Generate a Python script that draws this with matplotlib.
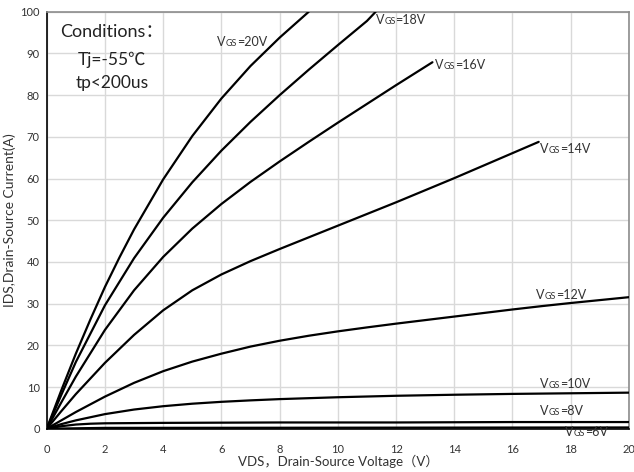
import matplotlib
matplotlib.use("Agg")
import matplotlib.pyplot as plt

plt.rcParams['font.family'] = ['Lato', 'Noto Sans CJK SC', 'DejaVu Sans']

# output curves, VDS (V) vs IDS (A), one pair per gate voltage
vds_20 = [0, 0.5, 1, 1.5, 2, 2.5, 3, 4, 5, 6, 7, 8, 9.0]
ids_20 = [0, 9.2, 18, 26.2, 34, 41.1, 47.8, 59.8, 70.2, 79.2, 87, 93.8, 100]

vds_18 = [0, 0.5, 1, 2, 3, 4, 5, 6, 7, 8, 9, 10, 11, 11.3]
ids_18 = [0, 8.1, 16, 29.6, 40.9, 50.6, 59.1, 66.7, 73.6, 80.0, 86.1, 92.0, 97.8, 100]

vds_16 = [0, 0.5, 1, 2, 3, 4, 5, 6, 7, 8, 9, 10, 11, 12, 13, 13.25]
ids_16 = [0, 6.3, 12.5, 23.7, 33.2, 41.2, 48.0, 53.9, 59.2, 64.1, 68.8, 73.4, 77.9, 82.4, 86.8, 87.9]

vds_14 = [0, 0.5, 1, 2, 3, 4, 5, 6, 7, 8, 9, 10, 11, 12, 13, 14, 15, 16, 16.9]
ids_14 = [0, 4.2, 8.3, 15.8, 22.5, 28.4, 33.2, 37.0, 40.2, 43.1, 45.9, 48.7, 51.5,
          54.3, 57.2, 60.1, 63.1, 66.1, 68.8]

vds_12 = [0, 0.5, 1, 2, 3, 4, 5, 6, 7, 8, 9, 10, 11, 12, 13, 14, 15, 16, 17, 18, 19, 20]
ids_12 = [0, 2.0, 4, 7.7, 11.0, 13.8, 16.1, 18.0, 19.7, 21.1, 22.3, 23.35, 24.3, 25.2,
          26.05, 26.9, 27.75, 28.6, 29.4, 30.15, 30.85, 31.55]

vds_10 = [0, 0.5, 1, 2, 3, 4, 5, 6, 7, 8, 10, 12, 14, 16, 18, 20]
ids_10 = [0, 1.1, 2.0, 3.5, 4.6, 5.4, 6.0, 6.45, 6.8, 7.1, 7.55, 7.9, 8.15, 8.35, 8.5, 8.65]

vds_8 = [0, 0.5, 1, 1.5, 2, 4, 8, 12, 16, 20]
ids_8 = [0, 0.6, 1.0, 1.2, 1.3, 1.4, 1.5, 1.5, 1.6, 1.6]

vds_6 = [0, 2, 20]
ids_6 = [0, 0.2, 0.3]

curves = [(vds_20, ids_20), (vds_18, ids_18), (vds_16, ids_16), (vds_14, ids_14),
          (vds_12, ids_12), (vds_10, ids_10), (vds_8, ids_8), (vds_6, ids_6)]

# curve labels: gate voltage and where the label sits (left edge, vertical centre)
label_vgs = ['20V', '18V', '16V', '14V', '12V', '10V', '8V', '6V']
label_x = [5.85, 11.3, 13.35, 16.95, 16.8, 16.95, 16.95, 17.8]
label_y = [92.7, 98.0, 87.2, 67.0, 32.0, 10.7, 4.2, -0.9]

x_ticks = list(range(0, 21, 2))
y_ticks = list(range(0, 101, 10))

fig = plt.figure(figsize=(6.34, 4.72), dpi=100)
ax = fig.add_axes([0.0737, 0.0917, 0.9183, 0.8833])

for vx, iy in curves:
    ax.plot(vx, iy, color='black', lw=1.6, solid_capstyle='round',
            solid_joinstyle='round', zorder=3)

ax.set_xlim(0, 20)
ax.set_ylim(0, 100)
ax.set_xticks(x_ticks)
ax.set_yticks(y_ticks)
ax.tick_params(length=0, labelsize=8, labelcolor='#333333')
ax.tick_params(axis='x', pad=11)
ax.tick_params(axis='y', pad=5)
ax.grid(True, color='#d9d9d9', lw=1.0)
ax.set_axisbelow(True)

ax.spines['left'].set_color('black')
ax.spines['left'].set_linewidth(1.2)
ax.spines['bottom'].set_color('black')
ax.spines['bottom'].set_linewidth(1.2)
for side in ['top', 'right']:
    ax.spines[side].set_color('#8c8c8c')
    ax.spines[side].set_linewidth(1.2)

ax.set_xlabel('VDS，Drain-Source Voltage（V）', fontsize=9.5, color='#333333', labelpad=0)
ax.set_ylabel('IDS,Drain-Source Current(A)', fontsize=10, color='#333333', labelpad=3)


def vgs_label(x, y, value):
    # "V" + small "GS" + "=..V", each piece placed right after the previous one
    t = ax.text(x, y, 'V', fontsize=9, color='#333333', va='center', ha='left', zorder=4)
    t2 = ax.annotate('GS', xy=(1, 0), xycoords=t, fontsize=6.5, color='#333333',
                     va='bottom', ha='left', zorder=4)
    ax.annotate('=' + value, xy=(1, 0), xycoords=t2, fontsize=9, color='#333333',
                va='bottom', ha='left', zorder=4)


for x, y, v in zip(label_x, label_y, label_vgs):
    vgs_label(x, y, v)

ax.text(2.25, 95.2, 'Conditions：', fontsize=13, color='#222222', ha='center', va='center')
ax.text(2.25, 88.5, 'Tj=-55℃', fontsize=12.5, color='#222222', ha='center', va='center')
ax.text(2.25, 83.0, 'tp<200us', fontsize=12.5, color='#222222', ha='center', va='center')

fig.savefig('out.png', dpi=100)
